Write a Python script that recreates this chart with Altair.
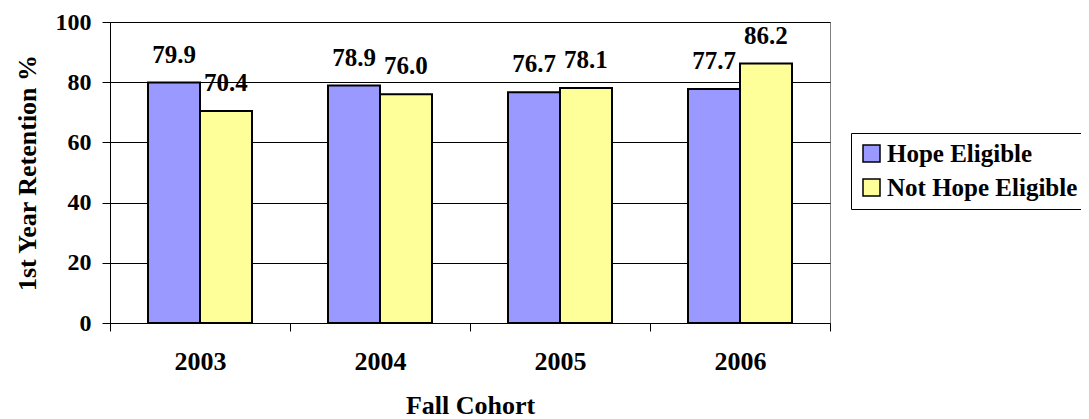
import altair as alt
import pandas as pd

years = ["2003", "2004", "2005", "2006"]
series_names = ["Hope Eligible", "Not Hope Eligible"]
hope_eligible = [79.9, 78.9, 76.7, 77.7]
not_hope_eligible = [70.4, 76.0, 78.1, 86.2]
colors = ["#9999FF", "#FFFF99"]

rows = []
for i, y in enumerate(years):
    rows.append({"year": y, "series": series_names[0], "value": hope_eligible[i]})
    rows.append({"year": y, "series": series_names[1], "value": not_hope_eligible[i]})
df = pd.DataFrame(rows)

FONT = "Liberation Serif, Times New Roman, serif"

x_enc = alt.X(
    "year:N",
    sort=years,
    scale=alt.Scale(paddingInner=0, paddingOuter=0),
    axis=alt.Axis(
        title="Fall Cohort",
        labelAngle=0,
        tickBand="extent",
        tickSize=8,
        tickColor="black",
        domainColor="black",
        labelFont=FONT,
        labelFontSize=26,
        labelFontWeight="bold",
        labelColor="black",
        labelPadding=17,
        titleFont=FONT,
        titleFontSize=26,
        titleFontWeight="bold",
        titleColor="black",
        titlePadding=18,
        grid=False,
    ),
)
xoff_enc = alt.XOffset(
    "series:N",
    sort=series_names,
    scale=alt.Scale(paddingInner=0, paddingOuter=0.7308),
)
y_enc = alt.Y(
    "value:Q",
    scale=alt.Scale(domain=[0, 100], nice=False),
    axis=alt.Axis(
        title="1st Year Retention %",
        values=[0, 20, 40, 60, 80, 100],
        tickSize=8,
        tickColor="black",
        domainColor="black",
        gridColor="black",
        gridOpacity=1,
        labelFont=FONT,
        labelFontSize=24,
        labelFontWeight="bold",
        labelColor="black",
        labelPadding=11,
        titleFont=FONT,
        titleFontSize=26,
        titleFontWeight="bold",
        titleColor="black",
        titlePadding=15,
    ),
)

bars = alt.Chart(df).mark_bar(stroke="black", strokeWidth=2).encode(
    x=x_enc,
    xOffset=xoff_enc,
    y=y_enc,
    color=alt.Color(
        "series:N",
        sort=series_names,
        scale=alt.Scale(domain=series_names, range=colors),
        legend=alt.Legend(
            title=None,
            orient="none",
            legendX=741,
            legendY=111,
            padding=8,
            strokeColor="black",
            fillColor="white",
            symbolType="square",
            symbolSize=289,
            symbolStrokeColor="black",
            symbolStrokeWidth=1.5,
            symbolOpacity=1,
            labelFont=FONT,
            labelFontSize=25,
            labelFontWeight="bold",
            labelColor="black",
            labelOffset=3,
            rowPadding=8,
            labelLimit=400,
        ),
    ),
)

labels = alt.Chart(df).mark_text(
    font=FONT, fontSize=25, fontWeight="bold", color="black",
    baseline="alphabetic", dy=-20,
).encode(
    x=alt.X("year:N", sort=years),
    xOffset=alt.XOffset("series:N", sort=series_names),
    y=alt.Y("value:Q"),
    text=alt.Text("value:Q", format=".1f"),
)

chart = (
    alt.layer(bars, labels)
    .properties(
        width=720,
        height=301,
        autosize=alt.AutoSizeParams(type="none"),
        padding={"left": 102, "top": 14, "right": 251, "bottom": 96},
    )
    .configure(background="white", font=FONT)
    .configure_view(stroke="#808080", strokeWidth=1)
)

chart.save("out.html", embed_options={"renderer": "svg", "actions": False})
